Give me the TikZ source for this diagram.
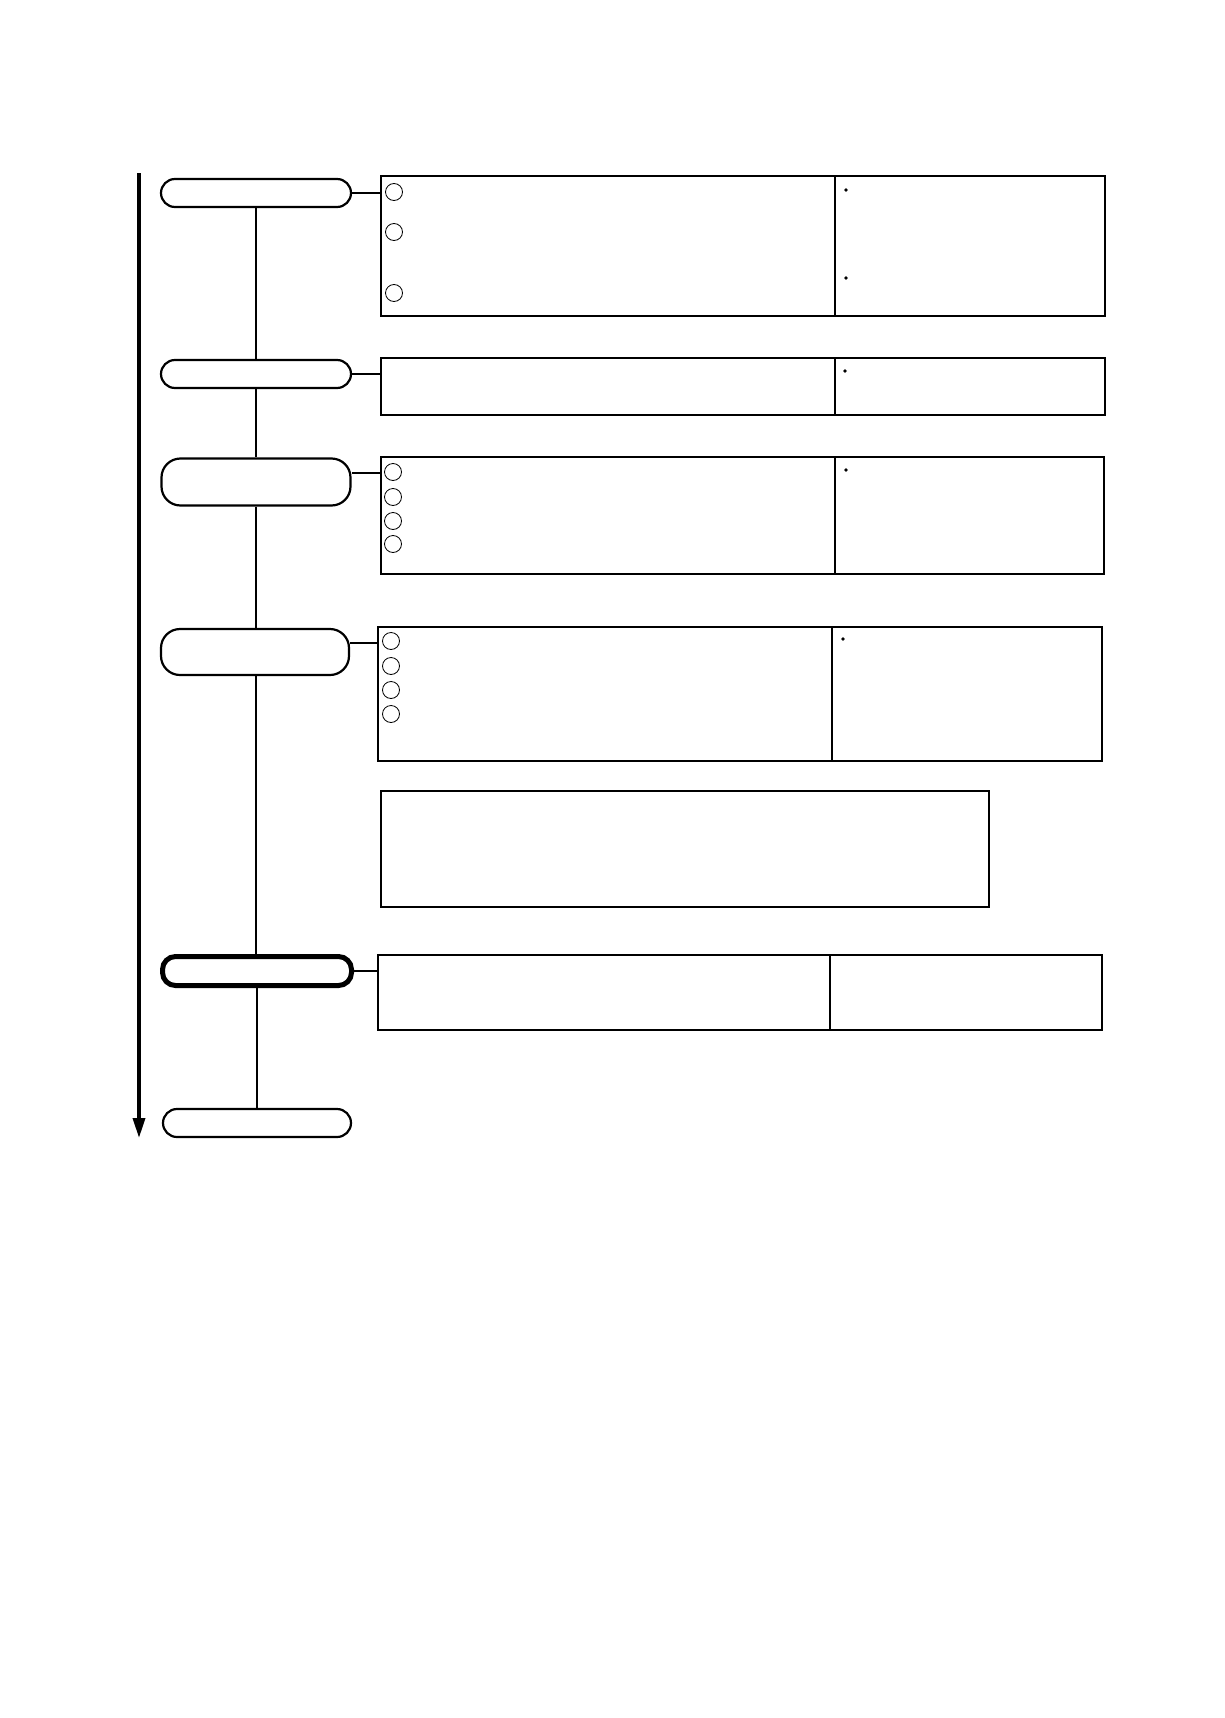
\documentclass[tikz,border=0pt]{standalone}
\usetikzlibrary{arrows.meta}
\begin{document}
\begin{tikzpicture}[x=1pt,y=-1pt]
    % Basic styles
    \tikzset{
        stage/.style={
            rectangle,
            rounded corners=14pt,
            draw,
            line width=2.2pt,
            inner sep=0pt
        },
        panel/.style={
            rectangle,
            draw,
            line width=2.8pt,
            inner sep=0pt,
            outer sep=0pt,
            anchor=north west
        },
        mark circle/.style={circle, draw, line width=0.8pt, minimum size=17pt, inner sep=0pt},
        dot/.style={circle, fill, minimum size=3.6pt, inner sep=0pt},
        link/.style={line width=2pt},
        spine/.style={line width=1.3pt}
    }
    \useasboundingbox (0,0) rectangle (1225,1718);

    % Time axis
    \coordinate (start) at (139,173);
    \coordinate (finish) at (139,1138);
    \draw[line width=3.3pt, -{Triangle[width=12pt,length=20pt]}] (start) -- (finish);

    % Stages
    \node[stage, minimum width=190pt, minimum height=28pt] (s1) at (256,193) {};
    \node[stage, minimum width=190pt, minimum height=28pt] (s2) at (256,374) {};
    \node[stage, minimum width=189pt, minimum height=47pt, rounded corners=19pt] (s3) at (256,482) {};
    \node[stage, minimum width=188pt, minimum height=46pt, rounded corners=19pt] (s4) at (255,652) {};
    \node[stage, line width=5pt, minimum width=189pt, minimum height=29pt, rounded corners=13pt] (s5) at (257,971) {};
    \node[stage, minimum width=188pt, minimum height=28pt] (s6) at (257,1123) {};

    % Panels (task | note)
    \node[panel, minimum width=454pt, minimum height=140pt] (task1) at (381,176) {};
    \node[panel, minimum width=270pt, minimum height=140pt] (note1) at (task1.north east) {};
    \node[panel, minimum width=454pt, minimum height=57pt] (task2) at (381,358) {};
    \node[panel, minimum width=270pt, minimum height=57pt] (note2) at (task2.north east) {};
    \node[panel, minimum width=454pt, minimum height=117pt] (task3) at (381,457) {};
    \node[panel, minimum width=269pt, minimum height=117pt] (note3) at (task3.north east) {};
    \node[panel, minimum width=454pt, minimum height=134pt] (task4) at (378,627) {};
    \node[panel, minimum width=270pt, minimum height=134pt] (note4) at (task4.north east) {};
    \node[panel, minimum width=608pt, minimum height=116pt] (extra) at (381,791) {};
    \node[panel, minimum width=452pt, minimum height=75pt] (task5) at (378,955) {};
    \node[panel, minimum width=272pt, minimum height=75pt] (note5) at (task5.north east) {};

    % Numbered circles
    \node[mark circle] (c11) at (394,192) {};
    \node[mark circle] (c12) at (394,232) {};
    \node[mark circle] (c13) at (394,293) {};
    \node[mark circle] (c31) at (393,472) {};
    \node[mark circle] (c32) at (393,497) {};
    \node[mark circle] (c33) at (393,521) {};
    \node[mark circle] (c34) at (393,544) {};
    \node[mark circle] (c41) at (391,641) {};
    \node[mark circle] (c42) at (391,666) {};
    \node[mark circle] (c43) at (391,690) {};
    \node[mark circle] (c44) at (391,714) {};

    % Bullets in the notes
    \node[dot] (d11) at (846,190) {};
    \node[dot] (d12) at (846,278) {};
    \node[dot] (d21) at (845,371) {};
    \node[dot] (d31) at (846,470) {};
    \node[dot] (d41) at (843,639) {};

    % Stage to panel
    \draw[link] (s1.east) -- (s1.east -| task1.west);
    \draw[link] (s2.east) -- (s2.east -| task2.west);
    \draw[link] ([yshift=9pt]s3.east) -- ([yshift=9pt]s3.east -| task3.west);
    \draw[link] ([yshift=9pt]s4.east) -- ([yshift=9pt]s4.east -| task4.west);
    \draw[link] (s5.east) -- (s5.east -| task5.west);

    % Stage to stage
    \draw[spine] (s1.south) -- (s2.north);
    \draw[spine] (s2.south) -- (s3.north);
    \draw[spine] (s3.south) -- (s3.south |- s4.north);
    \draw[spine] (s3.south |- s4.south) -- (s3.south |- s5.north);
    \draw[spine] (s5.south) -- (s6.north);
\end{tikzpicture}
\end{document}
